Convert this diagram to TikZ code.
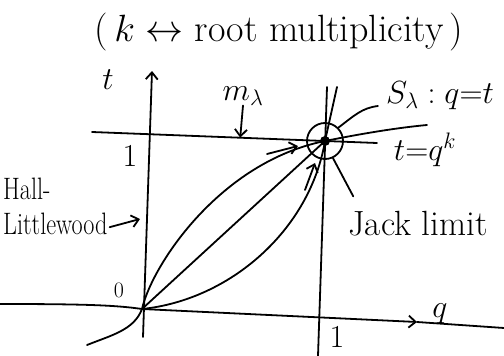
\RequirePackage{fix-cm}
\documentclass[tikz,border=0pt]{standalone}
\usepackage{amsmath,amssymb}
\usetikzlibrary{arrows.meta,positioning,calc}
\newcommand{\hw}[1]{\fontsize{#1}{#1}\selectfont}
\newcommand{\narrow}[1]{\scalebox{0.78}[1]{#1}}

\begin{document}
\begin{tikzpicture}[x=1pt,y=-1pt,
    ink/.style={line width=1.8pt, line cap=round, line join=round},
    arr/.style={-{Straight Barb[length=7pt,width=12pt]}},
    lbl/.style={inner sep=0pt, font=\hw{32}}]
  \useasboundingbox (0,0) rectangle (504,356);

  % points of the (q,t) plane
  \coordinate (O) at (142,309);
  \coordinate (P) at (325,141);

  % axes
  \coordinate (tbot) at (143,337);
  \coordinate (ttop) at (152,71);
  \draw[ink,arr] (tbot) -- (ttop);
  \coordinate (qleft) at (0,304);
  \coordinate (qtip) at (417,322);
  \coordinate (qend) at (504,328);
  \draw[ink,arr] (qleft) .. controls (80,304) and (115,305) .. (O) -- (qtip);
  \draw[ink] (qtip) -- (qend);

  % q=1 and t=1
  \coordinate (qone) at (318,356);
  \coordinate (qonetop) at (327,87);
  \draw[ink] (qone) -- (qonetop);
  \coordinate (tone) at (92,132);
  \coordinate (toneend) at (377,143);
  \draw[ink] (tone) -- (toneend);

  % the curves t = q^k
  \coordinate (hl) at (87,345);
  \coordinate (ksmall) at (427,125);
  \coordinate (kbig) at (337,87);
  \draw[ink] (hl) .. controls (112,335) and (134,330) .. (O)
     .. controls (152,265) and (220,162) .. (P)
     .. controls (360,134) and (395,128) .. (ksmall);
  \draw[ink] (O) -- (P);
  \draw[ink] (O) .. controls (230,300) and (310,230) .. (P) -- (kbig);

  % the point (1,1)
  \node[ink, draw, circle, minimum size=36pt, inner sep=0pt] (ring) at (P) {};
  \node[fill, circle, minimum size=10pt, inner sep=0pt] (dot) at (P) {};

  % labels
  \node[lbl, font=\hw{38}] (title) at (279,32) {(\,$k\leftrightarrow$ root multiplicity\,)};
  \node[lbl] (tlab) at (108,80) {$t$};
  \node[lbl, font=\hw{32}] (onet) at (130,156) {1};
  \node[lbl] (mlam) at (243,96) {$m_\lambda$};
  \node[lbl] (slam) at (440,96) {$S_\lambda : q{=}t$};
  \node[lbl] (tqk) at (425,150) {$t{=}q^k$};
  \node[lbl, font=\fontsize{31}{35}\selectfont, align=left, anchor=north west]
       (hall) at (3,178) {\narrow{Hall-}\\\narrow{Littlewood}};
  \node[lbl, font=\hw{22}] (zero) at (119,290) {0};
  \node[lbl, font=\hw{35}] (jack) at (418,224) {Jack limit};
  \node[lbl] (qlab) at (440,314) {$q$};
  \node[lbl, font=\hw{32}] (oneq) at (337,337) {1};

  % pointers
  \coordinate (mfoot) at ($(tone)!0.52!(toneend)$);
  \draw[ink,arr] (mlam.south) -- (mfoot);
  \coordinate (hltip) at (140,219);
  \draw[ink,arr] ($(hall.south east)+(2,-8)$) -- (hltip);
  \coordinate (lefts) at (267,154);
  \coordinate (lefte) at (298,146);
  \draw[ink,arr] (lefts) -- (lefte);
  \coordinate (ups) at (305,190);
  \coordinate (upe) at (315,163);
  \draw[ink,arr] (ups) -- (upe);
  \draw[ink] (ring.north east) .. controls (355,115) and (362,108) .. ($(slam.west)+(-8,10)$);
  \draw[ink] (ring.-65) -- ($(jack.north west)+(5,-15)$);
\end{tikzpicture}
\end{document}
